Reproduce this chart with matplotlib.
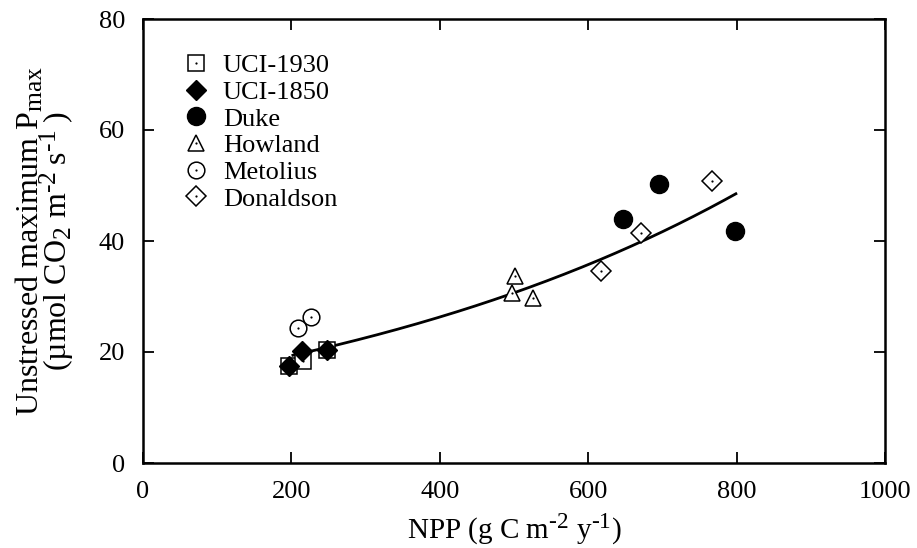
import numpy as np
import matplotlib
matplotlib.use('Agg')
import matplotlib.pyplot as plt
import matplotlib._mathtext as mathtext_interno
from matplotlib.legend_handler import HandlerTuple

plt.rcParams['font.family'] = ['Liberation Serif', 'DejaVu Serif']
plt.rcParams['mathtext.fontset'] = 'custom'
plt.rcParams['mathtext.rm'] = 'Liberation Serif'
plt.rcParams['mathtext.it'] = 'Liberation Serif:italic'
plt.rcParams['mathtext.bf'] = 'Liberation Serif:bold'
# indices um pouco maiores, como no original
mathtext_interno.SHRINK_FACTOR = 0.8

# Dados
uci1930_x = [197, 216, 248]
uci1930_y = [17.5, 18.4, 20.4]
uci1850_x = [197, 214, 248]
uci1850_y = [17.5, 20.2, 20.4]
duke_x = [647, 695, 798]
duke_y = [44.0, 50.3, 41.8]
howland_x = [497, 501, 526]
howland_y = [30.6, 33.7, 29.7]
metolius_x = [209, 226]
metolius_y = [24.3, 26.3]
donaldson_x = [617, 671, 767]
donaldson_y = [34.6, 41.5, 50.8]

# Curva ajustada (exponencial) y = a*exp(b*x)
ajuste_a = 14.24
ajuste_b = 0.001534
ajuste_xmin, ajuste_xmax = 202, 799

fs = 19

fig = plt.figure(figsize=(9.17, 5.48), dpi=100)
ax = fig.add_axes([143/917, 1 - 463/548, 742/917, 444/548])

x_fit = np.linspace(ajuste_xmin, ajuste_xmax, 200)
ax.plot(x_fit, ajuste_a*np.exp(ajuste_b*x_fit), color='black', lw=2.0, zorder=2)

ms = 12
mew = 1.1
kw_open = dict(ls='none', mfc='white', mec='black', mew=mew, ms=ms)
kw_dot = dict(ls='none', marker='o', color='black', ms=1.6, mew=0)

series = [
    ('UCI-1930', uci1930_x, uci1930_y, 's', True),
    ('UCI-1850', uci1850_x, uci1850_y, 'D', False),
    ('Duke', duke_x, duke_y, 'o', False),
    ('Howland', howland_x, howland_y, '^', True),
    ('Metolius', metolius_x, metolius_y, 'o', True),
    ('Donaldson', donaldson_x, donaldson_y, 'D', True),
]

handles = []
labels = []
for nome, xs, ys, mk, aberto in series:
    if aberto:
        tam = ms if mk != 'D' else 10
        h1, = ax.plot(xs, ys, marker=mk, **dict(kw_open, ms=tam), zorder=3)
        h2, = ax.plot(xs, ys, **kw_dot, zorder=4)
        handles.append((h1, h2))
    else:
        tam = 13 if mk == 'o' else 10
        h1, = ax.plot(xs, ys, marker=mk, ls='none', color='black', ms=tam, zorder=4)
        handles.append(h1)
    labels.append(nome)

ax.legend(handles, labels, handler_map={tuple: HandlerTuple(ndivide=1, pad=0)},
          loc='upper left', bbox_to_anchor=(0.039, 0.945), frameon=False,
          fontsize=fs, labelspacing=0.12, handlelength=1.0, handletextpad=0.53,
          borderaxespad=0)

ax.set_xlim(0, 1000)
ax.set_ylim(0, 80)
ax.set_xticks([0, 200, 400, 600, 800, 1000])
ax.set_yticks([0, 20, 40, 60, 80])
ax.tick_params(direction='in', length=8, width=1.3, top=True, right=True,
               labelsize=fs, pad=13)
for s in ax.spines.values():
    s.set_linewidth(1.8)

hif = '\u2010'
ax.set_xlabel('NPP (g C m$^{\\mathregular{' + hif + '2}}$ y$^{\\mathregular{' + hif + '1}}$)',
              fontsize=21, labelpad=6)
ax.set_ylabel('Unstressed maximum P$_{\\mathregular{max}}$\n'
              '($\\mathregular{\u00b5}$mol CO$_{\\mathregular{2}}$ m$^{\\mathregular{' + hif + '2}}$\u2009'
              's$^{\\mathregular{' + hif + '1}}$\u2009)',
              fontsize=23, labelpad=16, linespacing=0.75)

plt.savefig('out.png', dpi=100)
